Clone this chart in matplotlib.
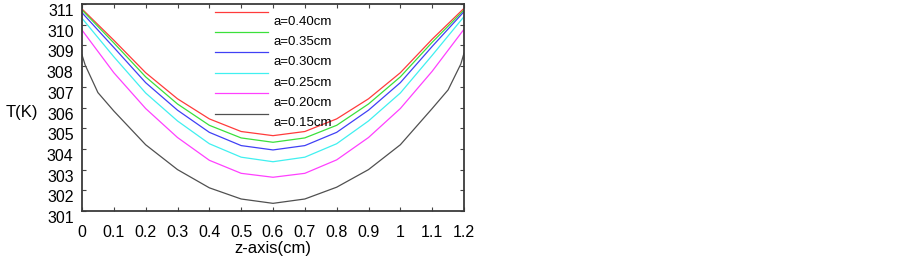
import numpy as np
import matplotlib
matplotlib.use("Agg")
import matplotlib.pyplot as plt
from matplotlib.transforms import ScaledTranslation

# z positions (cm) and temperatures (K)
z = [0.0, 0.1, 0.2, 0.3, 0.4, 0.5, 0.6, 0.7, 0.8, 0.9, 1.0, 1.1, 1.2]
t_040 = [310.76, 309.25, 307.68, 306.42, 305.45, 304.84, 304.64, 304.84, 305.45, 306.42, 307.68, 309.30, 310.79]
t_035 = [310.71, 309.12, 307.48, 306.17, 305.14, 304.53, 304.32, 304.53, 305.14, 306.17, 307.48, 309.15, 310.71]
t_030 = [310.58, 308.90, 307.20, 305.87, 304.80, 304.16, 303.95, 304.16, 304.80, 305.87, 307.20, 308.95, 310.63]
t_025 = [310.31, 308.45, 306.70, 305.35, 304.25, 303.60, 303.38, 303.60, 304.25, 305.35, 306.70, 308.52, 310.39]
t_020 = [309.74, 307.68, 305.95, 304.55, 303.45, 302.82, 302.63, 302.82, 303.47, 304.55, 305.95, 307.75, 309.78]
# the a=0.15 curve bends sharply near the ends, so it has a few extra points
z_015 = [0.0, 0.01, 0.05, 0.1, 0.2, 0.3, 0.4, 0.5, 0.6, 0.7, 0.8, 0.9, 1.0, 1.1, 1.15, 1.19, 1.2]
t_015 = [308.54, 308.05, 306.72, 305.83, 304.20, 303.00, 302.12, 301.58, 301.37, 301.58, 302.15,
         303.00, 304.20, 305.95, 306.85, 308.10, 308.62]

labels = ["a=0.40cm", "a=0.35cm", "a=0.30cm", "a=0.25cm", "a=0.20cm", "a=0.15cm"]
colors = ["#ff3b3b", "#3be03b", "#4040f5", "#40f0f0", "#ff40ff", "#505050"]
series = [(z, t_040), (z, t_035), (z, t_030), (z, t_025), (z, t_020), (z_015, t_015)]

x_ticks = [0, 0.1, 0.2, 0.3, 0.4, 0.5, 0.6, 0.7, 0.8, 0.9, 1, 1.1, 1.2]
x_ticklabels = ["0", "0.1", "0.2", "0.3", "0.4", "0.5", "0.6", "0.7", "0.8", "0.9", "1", "1.1", "1.2"]
y_ticks = list(range(301, 312))

plt.rcParams["font.family"] = ["Liberation Sans", "DejaVu Sans"]

fig = plt.figure(figsize=(9.02, 2.6), dpi=100)
ax = fig.add_axes([82 / 902, 1 - 211 / 260, 382 / 902, 207 / 260])

for (xs, ys), col in zip(series, colors):
    ax.plot(xs, ys, color=col, linewidth=0.9)

ax.set_xlim(0, 1.2)
ax.set_ylim(301, 311)
ax.set_xticks(x_ticks)
ax.set_xticklabels(x_ticklabels)
ax.set_yticks(y_ticks)
ax.tick_params(direction="in", length=3, width=0.8, colors="#444444",
               labelcolor="black", top=True, right=True, labelsize=11.5)
ax.tick_params(axis="x", pad=10)
ax.tick_params(axis="y", pad=6)
for s in ax.spines.values():
    s.set_color("#3a3a3a")
    s.set_linewidth(1.3)

# the y tick labels sit a few pixels under their ticks in the original
shift = ScaledTranslation(0, -6 / 100, fig.dpi_scale_trans)
for lab in ax.get_yticklabels():
    lab.set_transform(lab.get_transform() + shift)

ax.set_xlabel("z-axis(cm)", fontsize=12, labelpad=1)
ax.set_ylabel("T(K)", fontsize=12, rotation=0, ha="center", va="center")
ax.yaxis.set_label_coords(-0.157, 0.478)

# hand-drawn legend: line on one row, label half a row lower
line_y = [0.963, 0.863, 0.766, 0.668, 0.571, 0.471]
for i, (lab, col) in enumerate(zip(labels, colors)):
    y = line_y[i]
    ax.plot([0.348, 0.487], [y, y], transform=ax.transAxes, color=col, linewidth=0.9)
    ax.text(0.50, y - 0.048, lab, transform=ax.transAxes, fontsize=9.5,
            ha="left", va="center")

fig.savefig("out.png", dpi=100)
